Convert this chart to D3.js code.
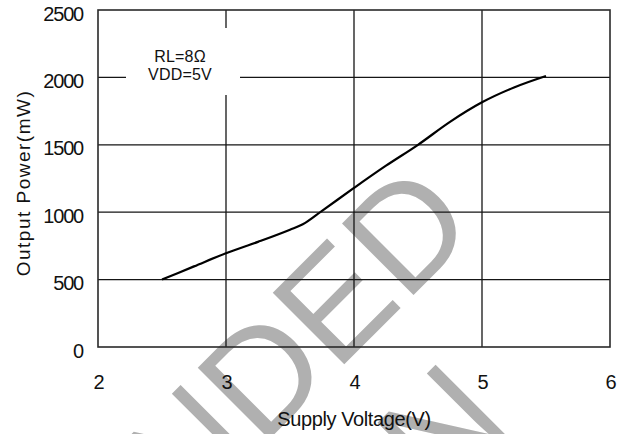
<!DOCTYPE html>
<html>
<head>
<meta charset="utf-8">
<script src="https://cdn.jsdelivr.net/npm/d3@7"></script>
<style>
  html, body { margin: 0; padding: 0; background: #fff; }
  svg { display: block; }
  text { font-family: 'Liberation Sans', Arial, sans-serif; fill: #111; }
</style>
</head>
<body>
<svg id="chart" width="626" height="434"></svg>
<script>
'use strict';

// Data
const voltage = [2.5, 2.75, 3.0, 3.25, 3.5, 3.6, 3.75, 4.0, 4.25, 4.5, 4.75, 5.0, 5.25, 5.5];
const power = [500, 598, 696, 780, 870, 910, 1010, 1180, 1345, 1500, 1670, 1815, 1925, 2010];
const xTicks = [2, 3, 4, 5, 6];
const yTicks = [0, 500, 1000, 1500, 2000, 2500];
const noteLines = ['RL=8Ω', 'VDD=5V'];
const watermarkLines = ['NOT RECOMMENDED', 'FOR NEW DESIGN'];

const WIDTH = 626;
const HEIGHT = 434;
const margin = { top: 10, right: 16, bottom: 87, left: 98 };

const svg = d3.select('#chart');

const x = d3.scaleLinear()
  .domain([2, 6])
  .range([margin.left, WIDTH - margin.right]);

const y = d3.scaleLinear()
  .domain([0, 2500])
  .range([HEIGHT - margin.bottom, margin.top]);

// Watermark, behind everything. The white stroke thins the glyphs a little.
const wm = svg.append('g')
  .attr('class', 'watermark')
  .attr('transform', 'rotate(-45)');

const wmEnds = [[178, 501], [62, 667]];
wm.selectAll('text')
  .data(watermarkLines)
  .enter()
  .append('text')
    .attr('x', (d, i) => wmEnds[i][0])
    .attr('y', (d, i) => wmEnds[i][1])
    .attr('text-anchor', 'end')
    .style('font-size', '147px')
    .style('fill', '#b0b0b0')
    .style('stroke', '#fff')
    .style('stroke-width', 4.5)
    .style('paint-order', 'stroke')
    .text(d => d);

// Grid
const grid = svg.append('g').attr('class', 'grid');

grid.selectAll('.vline')
  .data(xTicks.slice(1, -1))
  .enter()
  .append('line')
    .attr('class', 'vline')
    .attr('x1', d => x(d))
    .attr('x2', d => x(d))
    .attr('y1', y(0))
    .attr('y2', y(2500));

grid.selectAll('.hline')
  .data(yTicks.slice(1, -1))
  .enter()
  .append('line')
    .attr('class', 'hline')
    .attr('x1', x(2))
    .attr('x2', x(6))
    .attr('y1', d => y(d))
    .attr('y2', d => y(d));

grid.selectAll('line')
  .attr('stroke', '#151515')
  .attr('stroke-width', 1.3);

// Frame
svg.append('rect')
  .attr('x', x(2))
  .attr('y', y(2500))
  .attr('width', x(6) - x(2))
  .attr('height', y(0) - y(2500))
  .attr('fill', 'none')
  .attr('stroke', '#2a2a2a')
  .attr('stroke-width', 1.6);

// Condition note with white backing over the grid
const note = svg.append('g').attr('class', 'note');

note.append('rect')
  .attr('x', 126)
  .attr('y', 28)
  .attr('width', 114)
  .attr('height', 67)
  .attr('fill', '#fff');

note.selectAll('text')
  .data(noteLines)
  .enter()
  .append('text')
    .attr('x', 180)
    .attr('y', (d, i) => 61.5 + i * 18)
    .attr('text-anchor', 'middle')
    .style('font-size', '16px')
    .style('letter-spacing', '0.2px')
    .text(d => d);

// Curve
const line = d3.line()
  .x(d => x(d[0]))
  .y(d => y(d[1]))
  .curve(d3.curveMonotoneX);

svg.append('path')
  .datum(d3.zip(voltage, power))
  .attr('d', line)
  .attr('fill', 'none')
  .attr('stroke', '#000')
  .attr('stroke-width', 2.2)
  .attr('stroke-linejoin', 'round');

// Axes: labels only, the frame stands in for the domain
const xAxis = svg.append('g')
  .attr('transform', 'translate(0,' + y(0) + ')')
  .call(d3.axisBottom(x).tickValues(xTicks).tickFormat(d3.format('d')).tickSize(0).tickPadding(28));

const yAxis = svg.append('g')
  .attr('transform', 'translate(' + x(2) + ',0)')
  .call(d3.axisLeft(y).tickValues(yTicks).tickFormat(d3.format('d')).tickSize(0).tickPadding(15));

[xAxis, yAxis].forEach(axis => {
  axis.select('.domain').remove();
  axis.selectAll('text')
    .style('font-family', "'Liberation Sans', Arial, sans-serif")
    .style('font-size', '20px')
    .style('letter-spacing', '-1.2px')
    .attr('fill', '#111');
});

yAxis.selectAll('text').attr('dy', '0.5em');

// Axis titles
svg.append('text')
  .attr('x', x(4))
  .attr('y', 426)
  .attr('text-anchor', 'middle')
  .style('font-size', '20px')
  .style('letter-spacing', '-0.4px')
  .text('Supply Voltage(V)');

svg.append('text')
  .attr('transform', 'translate(30,' + 183 + ') rotate(-90)')
  .attr('text-anchor', 'middle')
  .style('font-size', '19px')
  .style('letter-spacing', '1.5px')
  .text('Output Power(mW)');
</script>
</body>
</html>
